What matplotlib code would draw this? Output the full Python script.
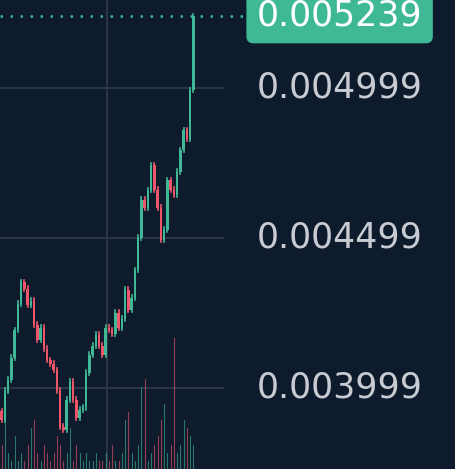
import matplotlib.pyplot as plt
import numpy as np

# ── Data ───────────────────────────────────────────────────────────────────────
closes = [0.003892, 0.003990, 0.004026, 0.004100, 0.004192, 0.004280, 0.004352, 0.004330,
          0.004276, 0.004290, 0.004210, 0.004159, 0.004200, 0.004130, 0.004092, 0.004080,
          0.004059, 0.003990, 0.003870, 0.003859, 0.003960, 0.004020, 0.003960, 0.003900,
          0.003926, 0.003935, 0.004050, 0.004110, 0.004140, 0.004176, 0.004140, 0.004110,
          0.004200, 0.004192, 0.004180, 0.004250, 0.004200, 0.004230, 0.004326, 0.004259,
          0.004300, 0.004392, 0.004500, 0.004626, 0.004600, 0.004659, 0.004742, 0.004660,
          0.004600, 0.004492, 0.004526, 0.004692, 0.004660, 0.004642, 0.004720, 0.004792,
          0.004859, 0.004830, 0.004992, 0.005239]
volumes = [3, 8, 2, 1, 4, 1, 2, 1, 3, 5, 6, 2, 1, 3, 2, 1, 2, 4, 3, 1,
           2, 5, 1, 3, 2, 1, 2, 1, 1, 2, 1, 1, 2, 1, 3, 1, 1, 2, 6, 7,
           2, 1, 3, 10, 11, 1, 2, 3, 4, 6, 8, 2, 3, 16, 2, 3, 6, 5, 4, 3]
grid_prices = [0.003999, 0.004499, 0.004999]
last_price = 0.005239

up_c, down_c = "#3fb896", "#f0566a"
bg = "#0e1b2c"

fig = plt.figure(figsize=(4.55, 4.69), dpi=100)
fig.patch.set_facecolor(bg)
ax = fig.add_axes([0, 0, 1, 1])
ax.set_facecolor(bg)
n = len(closes)
ax.set_xlim(-0.5, 139.5)
ax.set_ylim(0.003729, 0.005292)
ax.axis("off")

# grid
for p in grid_prices:
    ax.plot([-0.5, 68], [p, p], color="#2a3646", lw=1.5, zorder=1)
ax.axvline(32.5, color="#2a3646", lw=1.5, zorder=1)

# candles
opens = [closes[0] + 0.00003] + closes[:-1]
for i, (o, c) in enumerate(zip(opens, closes)):
    col = up_c if c >= o else down_c
    ax.plot([i, i], [min(o, c) - 0.000008, max(o, c) + 0.000008], color=col, lw=1.2, zorder=3)
    ax.bar(i, max(abs(c - o), 0.000004), bottom=min(o, c), width=0.7, color=col, zorder=3)

# volume
vax = fig.add_axes([0, 0, 1, 1], sharex=ax)
vax.patch.set_visible(False)
vax.axis("off")
vax.set_ylim(0, 115)
for i, v in enumerate(volumes):
    col = up_c if closes[i] >= opens[i] else down_c
    vax.plot([i, i], [0, v * 2], color=col, lw=0.8, alpha=0.6)

# last price
ax.plot([-0.5, 77], [last_price, last_price], color=up_c, lw=1.8, ls=(0, (1, 3)), zorder=2)
ax.text(104, last_price, f"{last_price:.6f}", color="white", fontsize=25, ha="center", va="center",
        bbox=dict(boxstyle="round,pad=0.3,rounding_size=0.2", fc=up_c, ec="none"), zorder=5)
for p in grid_prices:
    ax.text(104, p, f"{p:.6f}", color="#c8ccd2", fontsize=25, ha="center", va="center")

plt.savefig("out.png", dpi=100, facecolor=bg)
